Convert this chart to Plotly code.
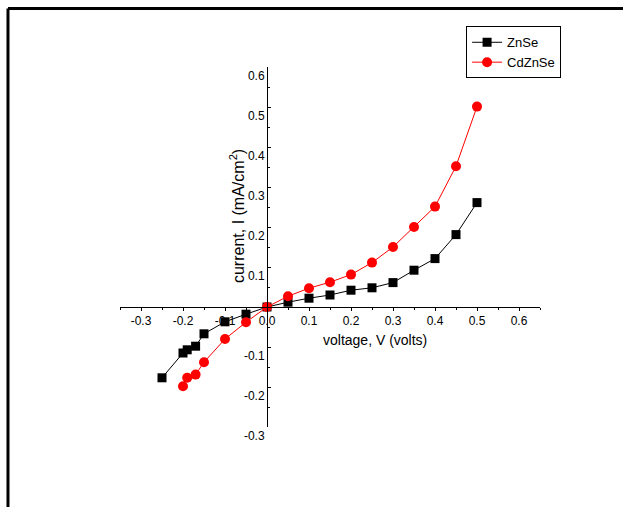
import plotly.graph_objects as go

# ---- data ----
zn_v = [-0.25, -0.20, -0.19, -0.17, -0.15, -0.10, -0.05, 0.00, 0.05, 0.10, 0.15,
        0.20, 0.25, 0.30, 0.35, 0.40, 0.45, 0.50]
zn_i = [-0.177, -0.115, -0.107, -0.098, -0.067, -0.037, -0.018, 0.000, 0.012, 0.022,
        0.030, 0.042, 0.048, 0.061, 0.092, 0.121, 0.181, 0.261]

cd_v = [-0.20, -0.19, -0.17, -0.15, -0.10, -0.05, 0.00, 0.05, 0.10, 0.15, 0.20,
        0.25, 0.30, 0.35, 0.40, 0.45, 0.50]
cd_i = [-0.198, -0.177, -0.169, -0.138, -0.080, -0.038, 0.000, 0.027, 0.047, 0.062,
        0.081, 0.111, 0.150, 0.200, 0.251, 0.352, 0.501]

x_ticks = [-0.3, -0.2, -0.1, 0.0, 0.1, 0.2, 0.3, 0.4, 0.5, 0.6]
y_ticks = [-0.3, -0.2, -0.1, 0.1, 0.2, 0.3, 0.4, 0.5, 0.6]

x_range = [-0.35, 0.65]
y_range = [-0.3, 0.6]

FONT = "Liberation Sans, Arial, sans-serif"

fig = go.Figure()
fig.add_trace(go.Scatter(x=zn_v, y=zn_i, mode="lines+markers", name="ZnSe",
                         line=dict(color="black", width=1),
                         marker=dict(symbol="square", size=9, color="black")))
fig.add_trace(go.Scatter(x=cd_v, y=cd_i, mode="lines+markers", name="CdZnSe",
                         line=dict(color="red", width=1),
                         marker=dict(symbol="circle", size=10, color="red")))

# axes cross at the origin
ypos_of_xaxis = (0 - y_range[0]) / (y_range[1] - y_range[0])
xpos_of_yaxis = (0 - x_range[0]) / (x_range[1] - x_range[0])

fig.update_layout(
    width=623, height=507,
    margin=dict(l=120, r=83, t=67, b=80),
    paper_bgcolor="white", plot_bgcolor="white",
    font=dict(family=FONT, color="black", size=12),
    showlegend=True,
    legend=dict(x=0.824, y=1.113, xanchor="left", yanchor="top",
                bgcolor="white", bordercolor="black", borderwidth=1,
                font=dict(size=13, family=FONT), tracegroupgap=0),
    xaxis=dict(range=x_range, anchor="free", position=ypos_of_xaxis,
               showline=True, linecolor="black", linewidth=1,
               showgrid=False, zeroline=False,
               tickmode="array", tickvals=x_ticks,
               ticktext=[f"{v:.1f}" for v in x_ticks],
               ticks="outside", ticklen=3, tickcolor="black",
               minor=dict(dtick=0.05, ticks="outside", ticklen=2, tickcolor="black"),
               tickfont=dict(size=12, family=FONT)),
    yaxis=dict(range=y_range, anchor="free", position=xpos_of_yaxis,
               showline=True, linecolor="black", linewidth=1,
               showgrid=False, zeroline=False,
               tickmode="array", tickvals=y_ticks,
               ticktext=[f"{v:.1f}" for v in y_ticks],
               ticks="inside", ticklen=3, tickcolor="black",
               minor=dict(dtick=0.05, ticks="inside", ticklen=2, tickcolor="black"),
               ticklabelshift=9,
               tickfont=dict(size=12, family=FONT)),
)

fig.add_annotation(text="voltage, V (volts)", xref="paper", yref="paper",
                   x=0.607, y=0.2417, xanchor="center", yanchor="middle",
                   showarrow=False, font=dict(size=14, family=FONT))
fig.add_annotation(text="current, I (mA/cm<sup>2</sup>)", xref="paper", yref="paper",
                   x=0.2786, y=0.586, xanchor="center", yanchor="middle",
                   showarrow=False, textangle=-90,
                   font=dict(size=16, family=FONT))

# page frame (top and left lines)
fig.add_shape(type="line", xref="paper", yref="paper",
              x0=-0.2667, x1=1.3, y0=1.1625, y1=1.1625,
              line=dict(color="black", width=3))
fig.add_shape(type="line", xref="paper", yref="paper",
              x0=-0.2667, x1=-0.2667, y0=1.1625, y1=-0.3,
              line=dict(color="black", width=3))

fig.write_html("out.html")
